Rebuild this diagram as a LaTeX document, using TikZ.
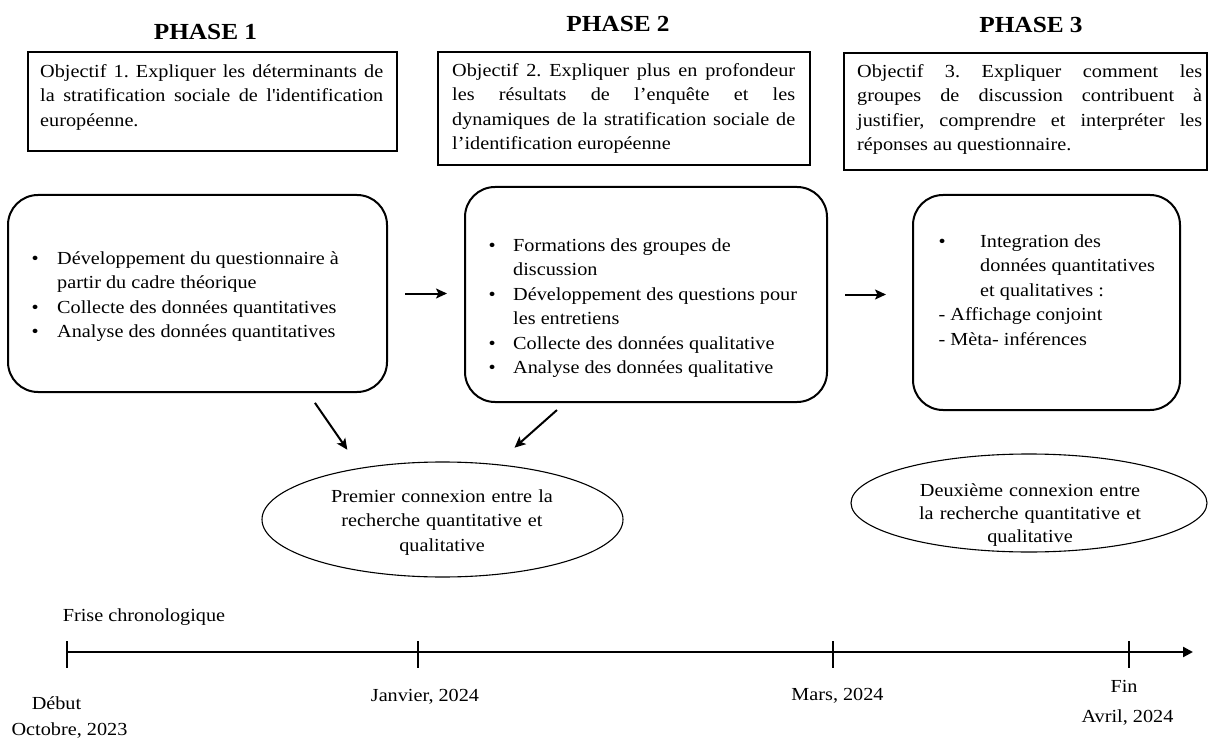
\documentclass[tikz,border=0pt]{standalone}
\usepackage{fontspec}
\setmainfont{Liberation Serif}[FakeStretch=1.1]
\usetikzlibrary{arrows.meta,shapes.geometric,calc}
\frenchspacing
\newcommand{\txtfont}{\fontsize{18.4}{24.5}\selectfont\frenchspacing\tolerance=10000 \hyphenpenalty=10000 \relax}
\newcommand{\txtfontb}{\fontsize{18.4}{23}\selectfont\frenchspacing\relax}
\newcommand{\ttlfont}{\fontsize{23}{28}\selectfont\bfseries}
\newcommand{\bitem}[2]{\noindent\hangindent=#1\relax\hangafter=1\relax\makebox[#1][l]{\textbullet}\strut #2\par}
\begin{document}
\begin{tikzpicture}[x=1pt,y=1pt,
  txt/.style={font=\txtfont, inner sep=0pt},
  txtb/.style={font=\txtfontb, inner sep=0pt},
  ttl/.style={font=\ttlfont, inner sep=0pt},
  objbox/.style={draw, line width=1.2pt, inner sep=0pt},
  roundbox/.style={draw, line width=2pt, rounded corners=30pt, inner sep=0pt},
  ell/.style={draw, ellipse, line width=1.1pt, inner sep=0pt},
  arr/.style={line width=2pt, -{Stealth[length=11pt,width=10pt,inset=2.5pt]}},
  tl/.style={line width=2.2pt},
]
\useasboundingbox (0,0) rectangle (1208,-738);

% titles
\node[ttl, anchor=base] (p1) at (205.5,-40) {PHASE 1};
\node[ttl, anchor=base] (p2) at (618,-32) {PHASE 2};
\node[ttl, anchor=base] (p3) at (1031,-33) {PHASE 3};

% objective boxes
\node[objbox, minimum width=369pt, minimum height=99pt] (o1) at (212.5,-101.5) {};
\node[txt, anchor=north west, text width=343pt, align=justify] (o1t) at (40,-59.85)
  {\strut Objectif 1. Expliquer les déterminants de\linebreak la stratification sociale de l\textquotesingle identification\linebreak européenne.};
\node[objbox, minimum width=372pt, minimum height=113pt] (o2) at (624,-108.5) {};
\node[txt, anchor=north west, text width=343pt, align=justify] (o2t) at (452,-58.85)
  {\strut Objectif 2. Expliquer plus en profondeur\linebreak les résultats de l’enquête et les\linebreak dynamiques de la stratification sociale de\linebreak l’identification européenne};
\node[objbox, minimum width=363pt, minimum height=117pt] (o3) at (1025.5,-111.5) {};
\node[txt, anchor=north west, text width=345pt, align=justify] (o3t) at (857,-59.85)
  {\strut Objectif 3. Expliquer comment les\linebreak groupes de discussion contribuent à\linebreak justifier, comprendre et interpréter les\linebreak réponses au questionnaire.};

% rounded boxes
\node[roundbox, minimum width=379pt, minimum height=197pt] (b1) at (197.5,-293.5) {};
\node[txt, anchor=north west, text width=350pt, align=justify] (b1t) at (31.5,-246.85)
  {\bitem{25.5pt}{Développement du questionnaire à\hfill\break partir du cadre théorique}\bitem{25.5pt}{Collecte des données quantitatives}\bitem{25.5pt}{Analyse des données quantitatives}};
\node[roundbox, minimum width=362pt, minimum height=215pt] (b2) at (646,-294.5) {};
\node[txt, anchor=north west, text width=330pt, align=justify] (b2t) at (488.5,-233.85)
  {\bitem{24.5pt}{Formations des groupes de\hfill\break discussion}\bitem{24.5pt}{Développement des questions pour\hfill\break les entretiens}\bitem{24.5pt}{Collecte des données qualitative}\bitem{24.5pt}{Analyse des données qualitative}};
\node[roundbox, minimum width=267pt, minimum height=215pt] (b3) at (1046.5,-302.5) {};
\node[txt, anchor=north west, text width=240pt, align=justify] (b3t) at (938.5,-229.85)
  {\bitem{41.5pt}{Integration des\hfill\break données quantitatives\hfill\break et qualitatives :}\noindent\strut - Affichage conjoint\par\noindent\strut - Mèta- inférences};

% ellipses
\node[ell, minimum width=361pt, minimum height=115pt] (e1) at (442.5,-519.5) {};
\node[txt, text width=270pt, align=center] (e1t) at (442,-521.6)
  {\strut Premier connexion entre la\\ recherche quantitative et\\ qualitative\strut};
\node[ell, minimum width=356pt, minimum height=98pt] (e2) at (1029,-503) {};
\node[txtb, text width=270pt, align=center] (e2t) at (1030,-514.4)
  {\strut Deuxième connexion entre\\ la recherche quantitative et\\ qualitative\strut};

% arrows
\draw[arr, shorten <=17pt, shorten >=17pt] (b1.east) -- (b1.east -| b2.west);
\draw[arr, shorten <=17pt, shorten >=26pt] (b2.east) -- (b2.east -| b3.west);
\coordinate (a1s) at (b1.south -| 308.1,0);
\coordinate (a2s) at (b2.south -| 564.9,0);
\draw[arr, shorten <=12pt, shorten >=22pt] (a1s) -- (e1.148);
\draw[arr, shorten <=10.6pt, shorten >=24.7pt] (a2s) -- (e1.46.7);

% timeline
\node[txt, anchor=base] (frise) at (144,-621) {Frise chronologique};
\coordinate (t0) at (67,-652);
\coordinate (t1) at (418,-652);
\coordinate (t2) at (833,-652);
\coordinate (t3) at (1129,-652);
\coordinate (tend) at (1193,-652);
\draw[tl, -{Triangle[length=10pt,width=10pt]}] (t0) -- (tend);
\foreach \c in {t0,t1,t2,t3} \draw[tl] ($(\c)+(0,11)$) -- ($(\c)+(0,-16)$);
\node[txt, anchor=base] (debut) at (56.5,-709.3) {Début};
\node[txt, anchor=base] (oct) at (69.5,-735) {Octobre, 2023};
\node[txt, anchor=base] (jan) at (425,-701) {Janvier, 2024};
\node[txt, anchor=base] (mars) at (837.5,-700) {Mars, 2024};
\node[txt, anchor=base] (fin) at (1124,-692.7) {Fin};
\node[txt, anchor=base] (avr) at (1127.5,-722.7) {Avril, 2024};
\end{tikzpicture}
\end{document}
